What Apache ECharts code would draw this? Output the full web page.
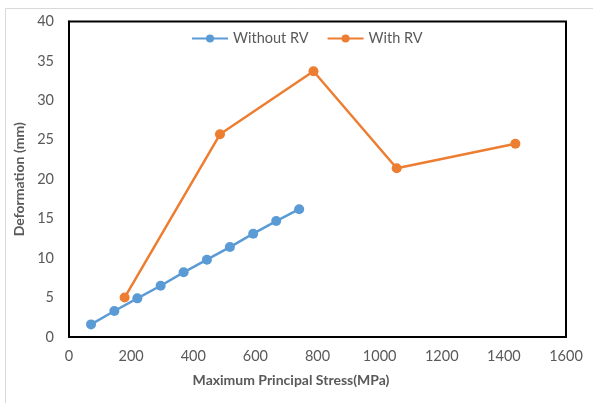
<!DOCTYPE html>
<html>
<head>
<meta charset="utf-8">
<title>Deformation vs Maximum Principal Stress</title>
<script src="https://cdn.jsdelivr.net/npm/echarts@6/dist/echarts.min.js"></script>
<style>
    html, body { margin: 0; padding: 0; background: #fff; }
    #chart { width: 593px; height: 403px; }
</style>
</head>
<body>
<div id="chart"></div>
<script>
    // values
    var withoutRvStress = [71, 146, 220, 295, 369, 444, 518, 593, 667, 741];
    var withoutRvDeform = [1.6, 3.3, 4.9, 6.5, 8.2, 9.8, 11.4, 13.1, 14.7, 16.2];
    var withRvStress = [179, 486, 787, 1055, 1437];
    var withRvDeform = [5.0, 25.7, 33.7, 21.4, 24.5];

    var seriesNames = ['Without RV', 'With RV'];
    var seriesColors = ['#5b9bd5', '#ed7d31'];

    function pairs(xs, ys) {
        return xs.map(function (x, i) { return [x, ys[i]]; });
    }

    var font = 'Lato, "Open Sans", sans-serif';
    var grey = '#595959';

    var chart = echarts.init(document.getElementById('chart'));

    chart.setOption({
        animation: false,
        textStyle: { fontFamily: font },
        graphic: [{
            type: 'rect',
            shape: { x: 5.5, y: 8.5, width: 620, height: 420 },
            style: { fill: 'none', stroke: '#d9d9d9', lineWidth: 1 }
        }],
        legend: {
            left: 186,
            top: 26,
            itemWidth: 36,
            itemHeight: 10,
            itemGap: 18,
            textStyle: { color: grey, fontSize: 14.5, fontFamily: font },
            data: seriesNames
        },
        grid: {
            left: 69,
            right: 27,
            top: 21.5,
            bottom: 66,
            show: true,
            borderColor: '#000',
            borderWidth: 2
        },
        xAxis: {
            type: 'value',
            min: 0,
            max: 1600,
            interval: 200,
            name: 'Maximum Principal Stress(MPa)',
            nameLocation: 'middle',
            nameGap: 36,
            nameTextStyle: {
                color: grey, fontSize: 14, fontWeight: 'bold', fontFamily: font,
                padding: [0, 53, 0, 0]
            },
            axisLine: { lineStyle: { color: '#000', width: 2 } },
            axisTick: { show: false },
            splitLine: { show: false },
            axisLabel: {
                color: grey, fontSize: 14.5, margin: 12, fontFamily: font,
                formatter: function (v) { return String(v); }
            }
        },
        yAxis: {
            type: 'value',
            min: 0,
            max: 40,
            interval: 5,
            name: 'Deformation (mm)',
            nameLocation: 'middle',
            nameGap: 36,
            nameTextStyle: { color: grey, fontSize: 14, fontWeight: 'bold', fontFamily: font },
            axisLine: { show: true, lineStyle: { color: '#000', width: 2 } },
            axisTick: { show: false },
            splitLine: { show: false },
            axisLabel: { color: grey, fontSize: 14.5, margin: 15, fontFamily: font }
        },
        series: [
            {
                name: seriesNames[0],
                type: 'line',
                data: pairs(withoutRvStress, withoutRvDeform),
                symbol: 'circle',
                symbolSize: 10,
                color: seriesColors[0],
                lineStyle: { width: 2.5, color: seriesColors[0] },
                itemStyle: { color: seriesColors[0] }
            },
            {
                name: seriesNames[1],
                type: 'line',
                data: pairs(withRvStress, withRvDeform),
                symbol: 'circle',
                symbolSize: 10,
                color: seriesColors[1],
                lineStyle: { width: 2.5, color: seriesColors[1] },
                itemStyle: { color: seriesColors[1] }
            }
        ]
    });
</script>
</body>
</html>
